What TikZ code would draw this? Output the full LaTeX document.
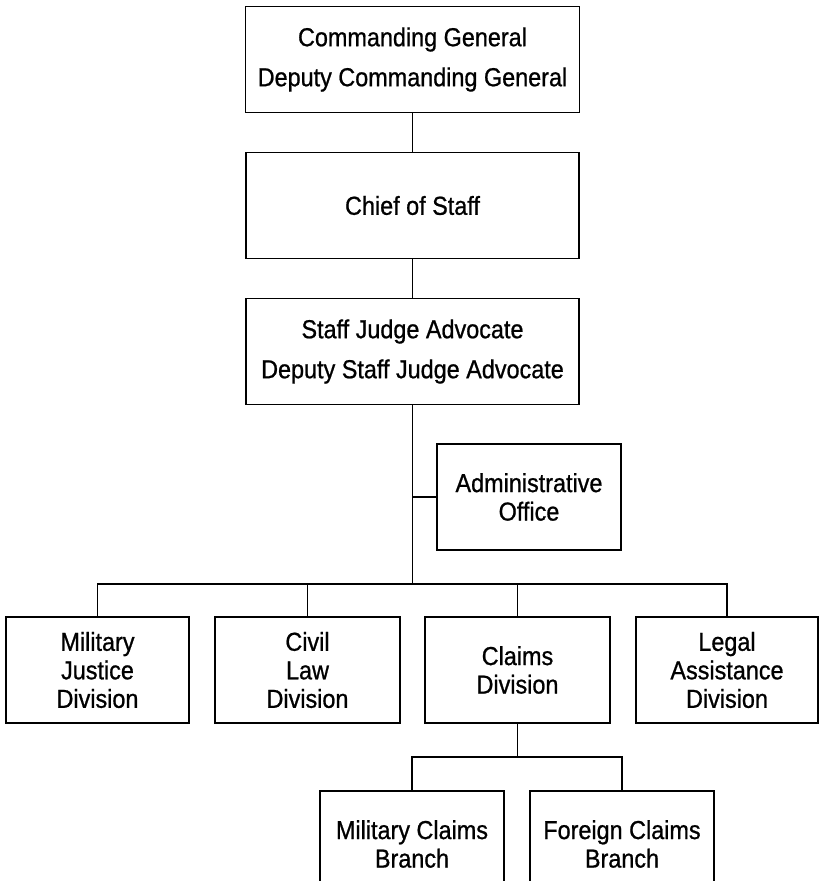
\documentclass[tikz,border=0pt]{standalone}
\usepackage{fontspec}
\setmainfont[FakeStretch=0.9,FakeBold=0.8]{Liberation Sans}
\begin{document}
\begin{tikzpicture}[x=1pt,y=-1pt,
  box/.style={draw, line width=1.6pt, inner sep=0pt, align=center, minimum height=106pt},
  bigtext/.style={font=\fontsize{26}{40}\selectfont},
  smalltext/.style={font=\fontsize{26}{28.5}\selectfont},
  conn/.style={line width=1.4pt}]
\useasboundingbox (0,0) rectangle (819,881);
\clip (0,0) rectangle (819,881);
\fill[white] (0,0) rectangle (819,881);

\node[box, bigtext, minimum width=334pt] (cg) at (412.5,59.5) {Commanding General\\Deputy Commanding General};
\node[box, bigtext, minimum width=333pt] (cos) at (412.5,205.5) {Chief of Staff};
\node[box, bigtext, minimum width=333pt] (sja) at (412.5,351.5) {Staff Judge Advocate\\Deputy Staff Judge Advocate};
\node[box, smalltext, minimum width=184pt] (adm) at (529,497) {Administrative\\Office};

\node[box, smalltext, minimum width=183pt] (mj) at (97.5,670) {Military\\Justice\\Division};
\node[box, smalltext, minimum width=185pt] (civ) at (307.5,670) {Civil\\Law\\Division};
\node[box, smalltext, minimum width=185pt] (clm) at (517.5,670) {Claims\\Division};
\node[box, smalltext, minimum width=182pt] (leg) at (727,670) {Legal\\Assistance\\Division};

\node[box, smalltext, minimum width=184pt] (mcb) at (412,844) {Military Claims\\Branch};
\node[box, smalltext, minimum width=184pt] (fcb) at (622,844) {Foreign Claims\\Branch};

\coordinate (bus) at (412.5,584);
\coordinate (sub) at (517.5,757);

\draw[conn] (cg.south) -- (cos.north);
\draw[conn] (cos.south) -- (sja.north);
\draw[conn] (sja.south) -- (bus);
\draw[conn] (adm.west) -- (adm.west -| sja.south);
\draw[conn] (mj.north) |- (bus) -| (leg.north);
\draw[conn] (civ.north) -- (civ.north |- bus);
\draw[conn] (clm.north) -- (clm.north |- bus);
\draw[conn] (clm.south) -- (sub);
\draw[conn] (mcb.north) |- (sub) -| (fcb.north);
\end{tikzpicture}
\end{document}
